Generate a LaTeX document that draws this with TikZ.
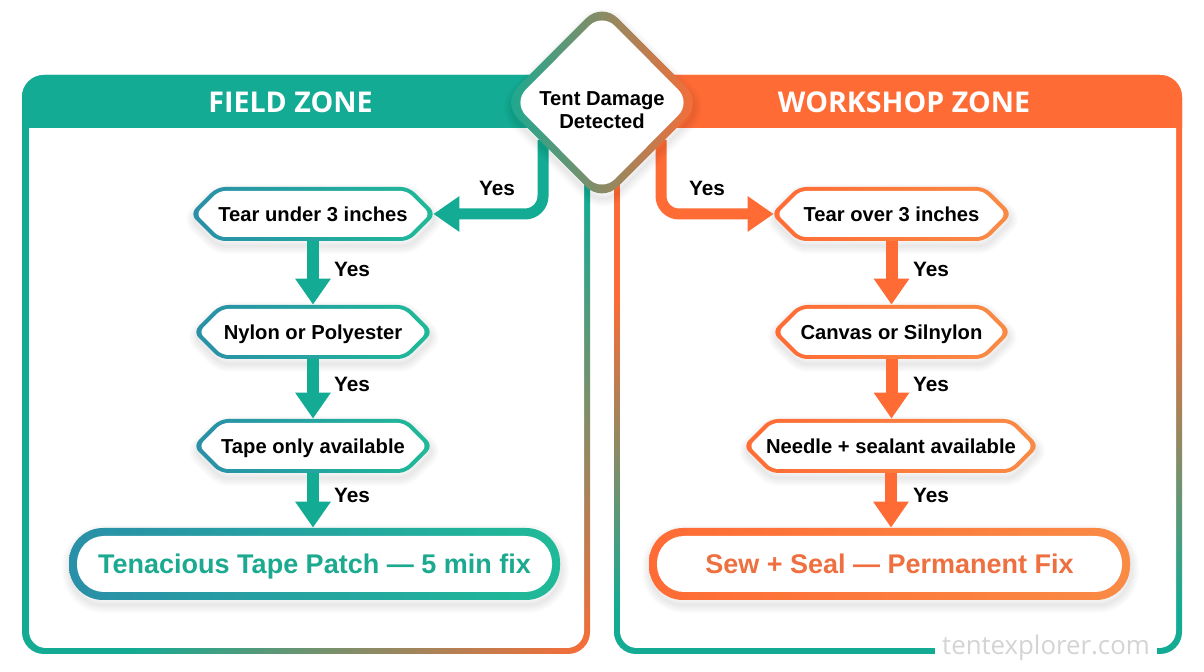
\documentclass[tikz,border=0pt]{standalone}
\usepackage{fontspec}
\setmainfont{Liberation Sans}
\newfontfamily\headfont{Open Sans}
\newfontfamily\markfont{Open Sans}
\usetikzlibrary{arrows.meta,calc}
\definecolor{tealc}{HTML}{14AB94}
\definecolor{tealb}{HTML}{2A8FA8}
\definecolor{tealr}{HTML}{1FBA98}
\definecolor{orangec}{HTML}{FF6B35}
\definecolor{oranger}{HTML}{F98B45}
\definecolor{tealtext}{HTML}{1BA98F}
\definecolor{orangetext}{HTML}{EE7040}
\definecolor{markgrey}{HTML}{D4D4D4}
\definecolor{diamondmid}{HTML}{87997A}
\pgfdeclarehorizontalshading{leftpanelshade}{100bp}{color(0bp)=(tealc); color(57bp)=(tealc); color(86bp)=(orangec); color(100bp)=(orangec)}
\pgfdeclareverticalshading{rightpanelshade}{100bp}{color(0bp)=(tealc); color(29bp)=(tealc); color(56bp)=(orangec); color(100bp)=(orangec)}
\tikzset{
  tealgrad/.style={left color=tealb,right color=tealr},
  orangegrad/.style={left color=orangec,right color=oranger},
  boxtext/.style={font=\fontsize{10.1}{12}\selectfont\bfseries,text=black,inner sep=0pt,align=center},
  yeslabel/.style={font=\fontsize{10.4}{12}\selectfont\bfseries,text=black,inner sep=0pt},
  headlabel/.style={font=\headfont\fontsize{14.3}{16}\selectfont\bfseries,text=white,inner sep=0pt},
  tealflow/.style={draw=tealc,line width=6pt,-{Triangle[length=13pt,width=17pt]}},
  orangeflow/.style={draw=orangec,line width=6pt,-{Triangle[length=13pt,width=17pt]}},
  elbow/.style={line width=5.5pt,rounded corners=9pt},
  softlayer/.style={black,opacity=.016,line join=round,xshift=.5pt,yshift=-2.5pt},
}
% soft shadow under a closed path
\newcommand\softshadow[1]{%
  \foreach \sw in {0.5,2,3.5,5,6.5,8}{\draw[softlayer,line width=\sw pt] #1;}%
}
% hexagon: name,l,r,t,b,gradient,text
\newcommand\hexbox[7]{%
  \pgfmathsetmacro\cxx{(#2+#3)/2}\pgfmathsetmacro\cyy{(#4+#5)/2}%
  \pgfmathsetmacro\wid{(#3-#2)*.5}\pgfmathsetmacro\hei{(#5-#4)*.5}%
  \softshadow{[rounded corners=4pt] (#2+24,#4) -- (#3-24,#4) -- (#3+3,\cyy) -- (#3-24,#5) -- (#2+24,#5) -- (#2-3,\cyy) -- cycle}
  \shade[#6,rounded corners=4pt] (#2+24,#4) -- (#3-24,#4) -- (#3+3,\cyy) -- (#3-24,#5) -- (#2+24,#5) -- (#2-3,\cyy) -- cycle;
  \fill[white,rounded corners=3pt] (#2+26,#4+4) -- (#3-26,#4+4) -- (#3-3,\cyy) -- (#3-26,#5-4) -- (#2+26,#5-4) -- (#2+3,\cyy) -- cycle;
  \node[boxtext,minimum width=\wid pt,minimum height=\hei pt,text height=.72em,text depth=0pt] (#1) at (\cxx,\cyy) {#7};
}
% pill: name,l,r,t,b,gradient,text colour,text
\newcommand\pillbox[8]{%
  \pgfmathsetmacro\cxx{(#2+#3)/2}\pgfmathsetmacro\cyy{(#4+#5)/2}%
  \pgfmathsetmacro\wid{(#3-#2)*.5}\pgfmathsetmacro\hei{(#5-#4)*.5}%
  \softshadow{[rounded corners=17pt] (#2,#4) rectangle (#3,#5)}
  \shade[#6,rounded corners=17pt] (#2,#4) rectangle (#3,#5);
  \fill[white,rounded corners=13.5pt] (#2+8,#4+8) rectangle (#3-8,#5-8);
  \node[inner sep=0pt,font=\fontsize{13.5}{16}\selectfont\bfseries,text=#7,minimum width=\wid pt,minimum height=\hei pt,text height=.94em,text depth=0pt] (#1) at (\cxx,\cyy) {#8};
}
\begin{document}
\begin{tikzpicture}[x=.5pt,y=-.5pt]
\useasboundingbox (0,0) rectangle (1204,672);
\fill[white] (0,0) rectangle (1204,672);

% panels
\shade[shading=leftpanelshade,shading angle=-45,rounded corners=11pt] (22,75) rectangle (590,654);
\fill[white,rounded corners=8.5pt] (29,100) rectangle (584,648);
\fill[tealc,rounded corners=11pt] (22,128) -- (22,75) -- (590,75) [sharp corners] -- (590,128) -- cycle;

\shade[shading=rightpanelshade,rounded corners=11pt] (614,75) rectangle (1182,654);
\fill[white,rounded corners=8.5pt] (620,100) rectangle (1176,648);
\fill[orangec,rounded corners=11pt] (614,128) -- (614,75) -- (1182,75) [sharp corners] -- (1182,128) -- cycle;

\node[headlabel] (fieldhead) at (290.5,102) {FIELD ZONE};
\node[headlabel] (workhead) at (904,102) {WORKSHOP ZONE};

% boxes
\hexbox{tearunder}{193}{433}{187}{241}{tealgrad}{Tear under 3 inches}
\hexbox{nylon}{196}{430}{305}{359}{tealgrad}{Nylon or Polyester}
\hexbox{tape}{196}{430}{419}{473}{tealgrad}{Tape only available}
\pillbox{tapefix}{69}{560}{528}{600}{tealgrad}{tealtext}{Tenacious Tape Patch — 5 min fix}

\hexbox{tearover}{774}{1009}{187}{241}{orangegrad}{Tear over 3 inches}
\hexbox{canvas}{775}{1008}{305}{359}{orangegrad}{Canvas or Silnylon}
\hexbox{needle}{746}{1036}{419}{473}{orangegrad}{Needle + sealant available}
\pillbox{sewfix}{649}{1130}{528}{600}{orangegrad}{orangetext}{Sew + Seal — Permanent Fix}

% connector start points under the decision
\coordinate (fieldout) at (543,140);
\coordinate (workout) at (661,140);

% connectors
\draw[tealflow,elbow] (fieldout) |- (tearunder.east);
\draw[tealflow] (tearunder.south) -- (tearunder.south |- nylon.north);
\draw[tealflow] (nylon.south) -- (nylon.south |- tape.north);
\draw[tealflow] (tape.south) -- (tape.south |- tapefix.north);

\draw[orangeflow,elbow] (workout) |- (tearover.west);
\draw[orangeflow] (tearover.south) -- (tearover.south |- canvas.north);
\draw[orangeflow] (canvas.south) -- (canvas.south |- needle.north);
\draw[orangeflow] (needle.south) -- (needle.south |- sewfix.north);

% decision
\softshadow{[rounded corners=11pt] (602,2.5) -- (702,102.5) -- (602,202.5) -- (502,102.5) -- cycle}
\shade[left color=tealc,middle color=diamondmid,right color=orangec,rounded corners=11pt] (602,2.5) -- (702,102.5) -- (602,202.5) -- (502,102.5) -- cycle;
\fill[white,rounded corners=9pt] (602,13) -- (691,102.5) -- (602,192) -- (513,102.5) -- cycle;
\node[boxtext,minimum width=60pt,minimum height=60pt,font=\fontsize{10.1}{11.6}\selectfont\bfseries] (damage) at (602,110) {Tent Damage\\Detected};

% labels
\node[yeslabel] (y1) at (497,188) {Yes};
\node[yeslabel] (y2) at (352,269) {Yes};
\node[yeslabel] (y3) at (352,384) {Yes};
\node[yeslabel] (y4) at (352,495) {Yes};
\node[yeslabel] (y5) at (707,188) {Yes};
\node[yeslabel] (y6) at (931,269) {Yes};
\node[yeslabel] (y7) at (931,384) {Yes};
\node[yeslabel] (y8) at (931,495) {Yes};

% watermark
\fill[white] (935,636) rectangle (1157,668);
\node[inner sep=0pt,text=markgrey,font=\markfont\fontsize{12.9}{14}\selectfont] (mark) at (1046,648) {tentexplorer.com};
\end{tikzpicture}
\end{document}
